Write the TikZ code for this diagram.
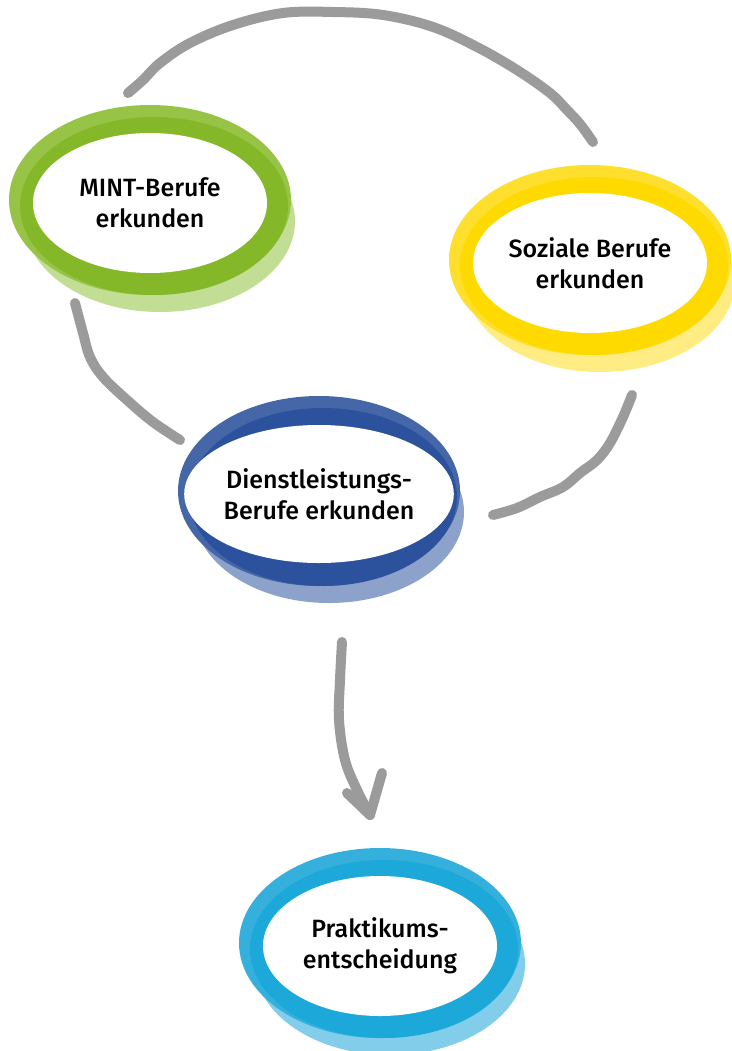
\documentclass[tikz,border=0pt]{standalone}
\usepackage{fontspec}
\setmainfont{Fira Sans}[UprightFont=* Medium]
\usepackage{tikz}
\usetikzlibrary{shapes.geometric, backgrounds}
\usepackage{xcolor}

% Farben der Ringe (A mittel, B kräftig, C hell)
\definecolor{mintA}{HTML}{97C447}
\definecolor{mintB}{HTML}{84B828}
\definecolor{mintC}{HTML}{C2DE95}
\definecolor{sozA}{HTML}{FFDF2E}
\definecolor{sozB}{HTML}{FFDA00}
\definecolor{sozC}{HTML}{FFEC82}
\definecolor{dlA}{HTML}{4667A7}
\definecolor{dlB}{HTML}{2C529E}
\definecolor{dlC}{HTML}{8DA2CB}
\definecolor{prA}{HTML}{35B0DC}
\definecolor{prB}{HTML}{1CA8D8}
\definecolor{prC}{HTML}{82CDE9}
\definecolor{strichgrau}{HTML}{9B9B9B}

\tikzset{
	feld/.style={ellipse, fill=white, minimum width=234pt, minimum height=140pt,
		inner sep=0pt, align=center, font=\fontsize{25}{31}\selectfont},
	strich/.style={draw=strichgrau, line width=10pt, line cap=round, line join=round},
}

% Ring hinter einem Feld: #1 Knoten, #2 Farbpräfix
\newcommand{\ringe}[2]{%
	\fill[#2C] ([shift={(10,-18)}]#1.center) ellipse [x radius=135, y radius=91];
	\fill[#2A] ([shift={(0,3)}]#1.center) ellipse [x radius=141, y radius=95];
	\fill[#2B] ([shift={(4,-3)}]#1.center) ellipse [x radius=134, y radius=89];
}

\begin{document}
\begin{tikzpicture}[x=1pt, y=1pt]
	\useasboundingbox (0,0) rectangle (731,-1051);
	
	% die vier Felder
	\node[feld] (mint) at (150,-203) {MINT-Berufe\\erkunden};
	\node[feld] (sozial) at (590,-263) {Soziale Berufe\\erkunden};
	\node[feld, minimum width=228pt, minimum height=138pt] (dienst) at (319,-494) {Dienstleistungs-\\Berufe erkunden};
	\node[feld] (praktikum) at (380,-946) {Praktikums-\\entscheidung};
	
	% Ringe im Hintergrund
	\begin{pgfonlayer}{background}
		\ringe{mint}{mint}
		\ringe{sozial}{soz}
		\ringe{dienst}{dl}
		\ringe{praktikum}{pr}
	\end{pgfonlayer}
	
	% Enden der Striche
	\coordinate (oben1) at ([shift={(-22,110)}]mint.center);
	\coordinate (oben2) at ([shift={(3,121)}]sozial.center);
	\coordinate (links1) at ([shift={(-75,-100)}]mint.center);
	\coordinate (links2) at ([shift={(-139,54)}]dienst.center);
	\coordinate (rechts1) at ([shift={(42,-132)}]sozial.center);
	\coordinate (rechts2) at ([shift={(174,-21)}]dienst.center);
	\coordinate (pfeil1) at ([shift={(23,-148)}]dienst.center);
	\coordinate (pfeil2) at ([shift={(-10,131)}]praktikum.center);
	
	% Bogen oben
	\draw[strich] plot[smooth, tension=0.6] coordinates {(oben1) (143,-80) (160,-63) (190,-43)
		(233,-25) (283,-13) (333,-12) (383,-15) (433,-27) (477,-47) (517,-70) (550,-93)
		(567,-110) (580,-124) (oben2)};
	
	% links
	\draw[strich] plot[smooth, tension=0.6] coordinates {(links1) (83,-333) (90,-357)
		(103,-377) (127,-400) (153,-422) (links2)};
	
	% rechts
	\draw[strich] plot[smooth, tension=0.6] coordinates {(rechts1) (623,-417) (610,-443)
		(597,-460) (580,-473) (563,-487) (540,-497) (517,-508) (rechts2)};
	
	% Pfeil nach unten
	\draw[strich] plot[smooth, tension=0.6] coordinates {(pfeil1) (340,-680) (339,-720)
		(345,-760) (357,-790) (pfeil2)};
	\draw[strich] (347,-793) -- (pfeil2) -- (382,-773);
\end{tikzpicture}
\end{document}
